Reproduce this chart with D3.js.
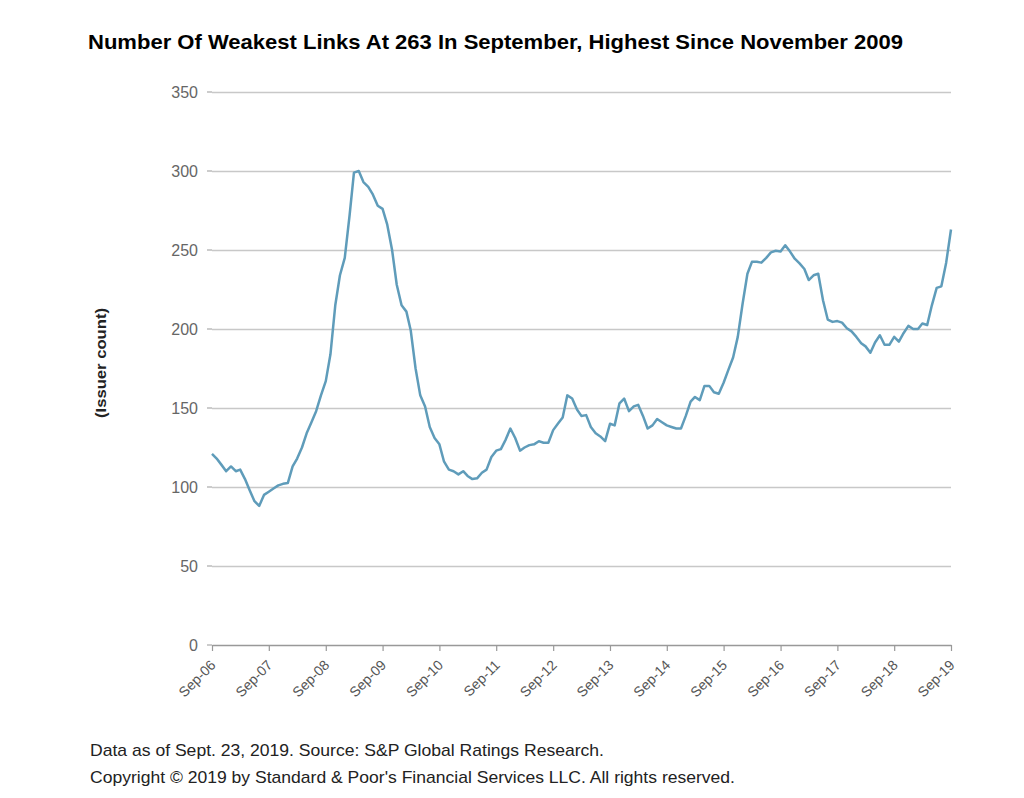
<!DOCTYPE html>
<html><head><meta charset="utf-8">
<script src="https://cdn.jsdelivr.net/npm/d3@7"></script>
<style>body{margin:0;background:#fff;}svg{display:block;}</style>
</head><body>
<svg id="c" width="1024" height="798"></svg>
<script>
const startYear = 2006, startMonth = 8; // September 2006
const values = [121,118,114,110,113,110,111,105,98,91,88,95,
97,99,101,102,102.5,113,118,125,134,141,148,158,
167,184,215,234,245,272,299,300,293,290,285,278,
276,266,250,228,215,211,199,175,158,151,138,131,
127,116,111,110,108,110,107,105,105.5,109,111,119,
123,124,130,137,131,123,125,126.5,127,129,128,128,
136,140,144,158,156,149,145,145.5,138,134,132,129,
140,139,153,156,148,151,152,145,137,139,143,141,
139,138,137,137,145,154,157,155,164,164,160,159,
166,174,182,195,216,235,242.5,242.6,242,245,248.5,249.5,
249,253,249,244.5,241.5,238,231,234,235,218,206,204.5,
205,204,200.5,198.5,195,191,189,185,191.5,196,190,190,
195,192,197.5,202,200,200,203.5,202.5,215,226,227,242,
263];
const yTicks = [0,50,100,150,200,250,300,350];
const xTickLabels = ["Sep-06","Sep-07","Sep-08","Sep-09","Sep-10","Sep-11","Sep-12","Sep-13","Sep-14","Sep-15","Sep-16","Sep-17","Sep-18","Sep-19"];
const title = "Number Of Weakest Links At 263 In September, Highest Since November 2009";
const yLabel = "(Issuer count)";
const footer1 = "Data as of Sept. 23, 2019. Source: S&P Global Ratings Research.";
const footer2 = "Copyright \u00A9 2019 by Standard & Poor's Financial Services LLC. All rights reserved.";

const data = values.map((v,i)=>({d:new Date(startYear, startMonth+i, 1), v}));
const tickDates = xTickLabels.map((t,i)=>new Date(startYear+i, startMonth, 1));

const FONT = "Liberation Sans, Arial, sans-serif";
const svg = d3.select("#c");
const L=212, R=951, T=92, B=645;
const x = d3.scaleTime().domain([data[0].d, data[data.length-1].d]).range([L,R]);
const y = d3.scaleLinear().domain([0,350]).range([B,T]);

svg.append("text").attr("x",88).attr("y",49).attr("font-family",FONT)
  .attr("font-weight","bold").attr("font-size",21).attr("fill","#000")
  .attr("textLength",815).attr("lengthAdjust","spacingAndGlyphs").text(title);

// gridlines
const gy = svg.append("g").attr("transform",`translate(${L},0)`)
  .call(d3.axisLeft(y).tickValues(yTicks).tickSize(-(R-L)).tickPadding(14).tickSizeOuter(0));
gy.select(".domain").remove();
gy.selectAll(".tick line").attr("stroke","#c8c8c8").attr("stroke-width",1.5);
gy.selectAll(".tick").filter(d=>d===0).select("line").attr("stroke","none");
gy.selectAll(".tick text").attr("fill","#666").attr("font-size",16).attr("font-family",FONT);
// short ticks left of grid
svg.append("g").selectAll("line").data(yTicks).join("line")
  .attr("x1",L-5).attr("x2",L).attr("y1",d=>y(d)).attr("y2",d=>y(d))
  .attr("stroke","#999").attr("stroke-width",1);

// x axis
const gx = svg.append("g").attr("transform",`translate(0,${B})`)
  .call(d3.axisBottom(x).tickValues(tickDates).tickSize(6).tickSizeOuter(0).tickFormat((d,i)=>xTickLabels[i]));
gx.select(".domain").attr("stroke","#999").attr("stroke-width",1.5);
gx.selectAll(".tick line").attr("stroke","#999").attr("stroke-width",1.2);
gx.selectAll(".tick text").attr("fill","#555").attr("font-size",14).attr("font-family",FONT)
  .attr("text-anchor","end").attr("dy",null).attr("y",0)
  .attr("transform","translate(4,21) rotate(-45)");

svg.append("text").attr("transform","translate(106,363) rotate(-90)")
  .attr("text-anchor","middle").attr("font-family",FONT)
  .attr("font-weight","bold").attr("font-size",14).attr("fill","#222")
  .attr("textLength",110).attr("lengthAdjust","spacingAndGlyphs").text(yLabel);

const line = d3.line().x(d=>x(d.d)).y(d=>y(d.v));
svg.append("path").datum(data).attr("d",line).attr("fill","none")
  .attr("stroke","#5f9cba").attr("stroke-width",2.5).attr("stroke-linejoin","round");

svg.append("text").attr("x",90).attr("y",756).attr("font-family",FONT)
  .attr("font-size",17).attr("fill","#222").attr("textLength",514).attr("lengthAdjust","spacingAndGlyphs").text(footer1);
svg.append("text").attr("x",90).attr("y",783).attr("font-family",FONT)
  .attr("font-size",17).attr("fill","#222").attr("textLength",645).attr("lengthAdjust","spacingAndGlyphs").text(footer2);
</script>
</body></html>
